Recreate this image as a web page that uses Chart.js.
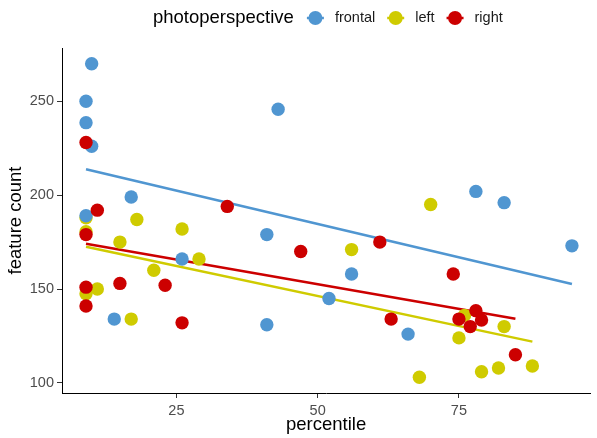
<!DOCTYPE html>
<html>
<head>
<meta charset="utf-8">
<script src="https://cdn.jsdelivr.net/npm/chart.js@4.4.1/dist/chart.umd.min.js"></script>
<style>
  body { margin: 0; background: #fff; }
  canvas { display: block; }
</style>
</head>
<body>
<canvas id="myChart" width="597" height="438"></canvas>
<script>
// percentile / feature count per photo perspective
const frontalX = [10, 9, 9, 10, 17, 9, 43, 41, 56, 52, 41, 66, 26, 14, 78, 83, 95];
const frontalY = [270, 250, 238.6, 226, 199, 189, 245.7, 179, 158, 145, 131, 126, 166, 134, 202, 196, 173];

const leftX = [9, 18, 9, 26, 15, 29, 21, 11, 9, 17, 70, 56, 68, 76, 75, 83, 79, 82, 88];
const leftY = [188, 187, 180.5, 182, 175, 166, 160, 150, 147.5, 134, 195, 171, 103, 136, 124, 130, 106, 108, 109];

const rightX = [9, 11, 34, 9, 9, 9, 15, 23, 26, 47, 61, 63, 74, 78, 75, 79, 77, 85];
const rightY = [228, 192, 194, 179, 151, 141, 153, 152, 132, 170, 175, 134, 158, 138.5, 134, 133.5, 130, 115];

// linear fit lines (end points)
const frontalFitX = [9, 95];
const frontalFitY = [213.8, 152.7];
const leftFitX = [9, 88];
const leftFitY = [172.5, 122];
const rightFitX = [9, 85];
const rightFitY = [174.1, 134.2];

const xTicks = [25, 50, 75];
const yTicks = [100, 150, 200, 250];

const groups = ['frontal', 'left', 'right'];
const colors = ['#5096d1', '#cfcb00', '#cc0000'];

const pts = (xs, ys) => xs.map((x, i) => ({ x: x, y: ys[i] }));

const FONT = "'Liberation Sans', Arial, sans-serif";

// ggplot style legend drawn in one row at the top
const topLegend = {
    id: 'topLegend',
    afterDraw(chart) {
        const c = chart.ctx;
        c.save();
        c.textBaseline = 'middle';
        c.fillStyle = '#000';
        c.font = '18.5px ' + FONT;
        let x = 153;
        const y = 18;
        c.fillText('photoperspective', x, y);
        x += c.measureText('photoperspective').width + 13;
        c.font = '14.5px ' + FONT;
        groups.forEach((g, i) => {
            c.strokeStyle = colors[i];
            c.lineWidth = 2.5;
            c.beginPath();
            c.moveTo(x, y);
            c.lineTo(x + 17, y);
            c.stroke();
            c.fillStyle = colors[i];
            c.beginPath();
            c.arc(x + 8.5, y, 7, 0, Math.PI * 2);
            c.fill();
            c.fillStyle = '#1a1a1a';
            c.fillText(g, x + 28, y);
            x += 28 + c.measureText(g).width + 12;
        });
        c.restore();
    }
};

const ctx = document.getElementById('myChart').getContext('2d');
new Chart(ctx, {
    type: 'scatter',
    data: {
        datasets: [
            { label: 'frontal fit', type: 'line', data: pts(frontalFitX, frontalFitY), borderColor: colors[0], borderWidth: 2.5, pointRadius: 0, fill: false, order: 10 },
            { label: 'left fit', type: 'line', data: pts(leftFitX, leftFitY), borderColor: colors[1], borderWidth: 2.5, pointRadius: 0, fill: false, order: 10 },
            { label: 'right fit', type: 'line', data: pts(rightFitX, rightFitY), borderColor: colors[2], borderWidth: 2.5, pointRadius: 0, fill: false, order: 10 },
            { label: 'left', data: pts(leftX, leftY), backgroundColor: colors[1], borderWidth: 0, pointRadius: 6.7, order: 3 },
            { label: 'frontal', data: pts(frontalX, frontalY), backgroundColor: colors[0], borderWidth: 0, pointRadius: 6.7, order: 2 },
            { label: 'right', data: pts(rightX, rightY), backgroundColor: colors[2], borderWidth: 0, pointRadius: 6.7, order: 1 }
        ]
    },
    options: {
        responsive: false,
        animation: false,
        layout: { padding: { top: 48, right: 3, left: 0, bottom: 0 } },
        plugins: {
            legend: { display: false },
            tooltip: { enabled: false }
        },
        scales: {
            x: {
                type: 'linear',
                min: 4.75,
                max: 98.25,
                afterBuildTicks: scale => { scale.ticks = xTicks.map(v => ({ value: v })); },
                afterFit: scale => { scale.height = 45; },
                grid: { drawOnChartArea: false, tickLength: 5, tickColor: '#333', tickWidth: 1 },
                border: { display: true, color: '#000', width: 1 },
                ticks: { color: '#4d4d4d', font: { size: 14.5, family: FONT }, padding: 4, maxRotation: 0 },
                title: { display: true, text: 'percentile', color: '#000', font: { size: 18.5, family: FONT }, padding: { top: 0, bottom: 2 } }
            },
            y: {
                type: 'linear',
                min: 94.65,
                max: 278.35,
                afterBuildTicks: scale => { scale.ticks = yTicks.map(v => ({ value: v })); },
                afterFit: scale => { scale.width = 62; },
                grid: { drawOnChartArea: false, tickLength: 5, tickColor: '#333', tickWidth: 1 },
                border: { display: true, color: '#000', width: 1 },
                ticks: { color: '#4d4d4d', font: { size: 14.5, family: FONT }, padding: 3 },
                title: { display: true, text: 'feature count', color: '#000', font: { size: 18.5, family: FONT }, padding: { top: 5, bottom: 0 } }
            }
        }
    },
    plugins: [topLegend]
});
</script>
</body>
</html>
